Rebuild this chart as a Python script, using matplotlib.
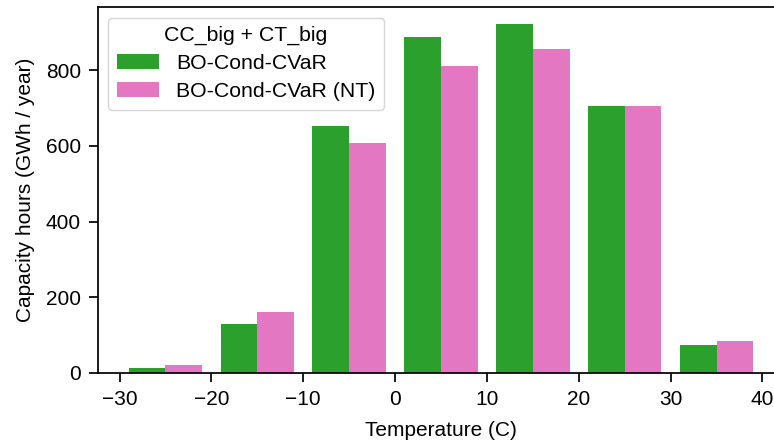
#!/usr/bin/env python3
"""
Capacity hours per temperature bin, dodged bars for two policies.
"""

import numpy as np
import matplotlib.pyplot as plt

plt.rcParams['font.family'] = ['Liberation Sans', 'DejaVu Sans']
plt.rcParams['font.size'] = 15
plt.rcParams['axes.linewidth'] = 1.25
for ax_name in ('xtick', 'ytick'):
    plt.rcParams[ax_name + '.major.size'] = 6.5
    plt.rcParams[ax_name + '.major.width'] = 1.25
    plt.rcParams[ax_name + '.major.pad'] = 5.5
    plt.rcParams[ax_name + '.labelsize'] = 15

# temperature bin left edges (C), bin width 10
bin_edges = [-30, -20, -10, 0, 10, 20, 30]
bin_width = 10

cvar = [14, 130, 653, 889, 921, 705, 75]
cvar_nt = [22, 160, 608, 810, 855, 705, 85]

labels = ['BO-Cond-CVaR', 'BO-Cond-CVaR (NT)']
colors = ['#2ca02c', '#e377c2']
legend_title = 'CC_big + CT_big'


def plot_dodged(ax, series, shrink=0.8):
    n = len(series)
    bar_w = bin_width * shrink / n
    left = np.array(bin_edges) + bin_width * (1 - shrink) / 2
    for i, (vals, lab, col) in enumerate(zip(series, labels, colors)):
        ax.bar(left + i * bar_w, vals, width=bar_w, align='edge',
               color=col, label=lab, linewidth=0)


fig = plt.figure(figsize=(7.74, 4.47), dpi=100)
# axes run past the right edge of the figure, as in the reference crop
ax = fig.add_axes([97.5 / 774, 1 - 373 / 447, 687 / 774, 366 / 447])

plot_dodged(ax, [cvar, cvar_nt])

ax.set_xlim(-32.4, 42.4)
ax.set_ylim(0, max(cvar) * 1.05)
ax.set_xticks([-30, -20, -10, 0, 10, 20, 30, 40])
ax.set_yticks([0, 200, 400, 600, 800])
ax.spines['right'].set_visible(False)
ax.set_xlabel('Temperature (C)', labelpad=9)
ax.set_ylabel('Capacity hours (GWh / year)', labelpad=8)
ax.legend(title=legend_title, loc='upper left', title_fontsize=15.3,
          fontsize=15.3, labelspacing=0.42)

fig.savefig('out.png', dpi=100)
